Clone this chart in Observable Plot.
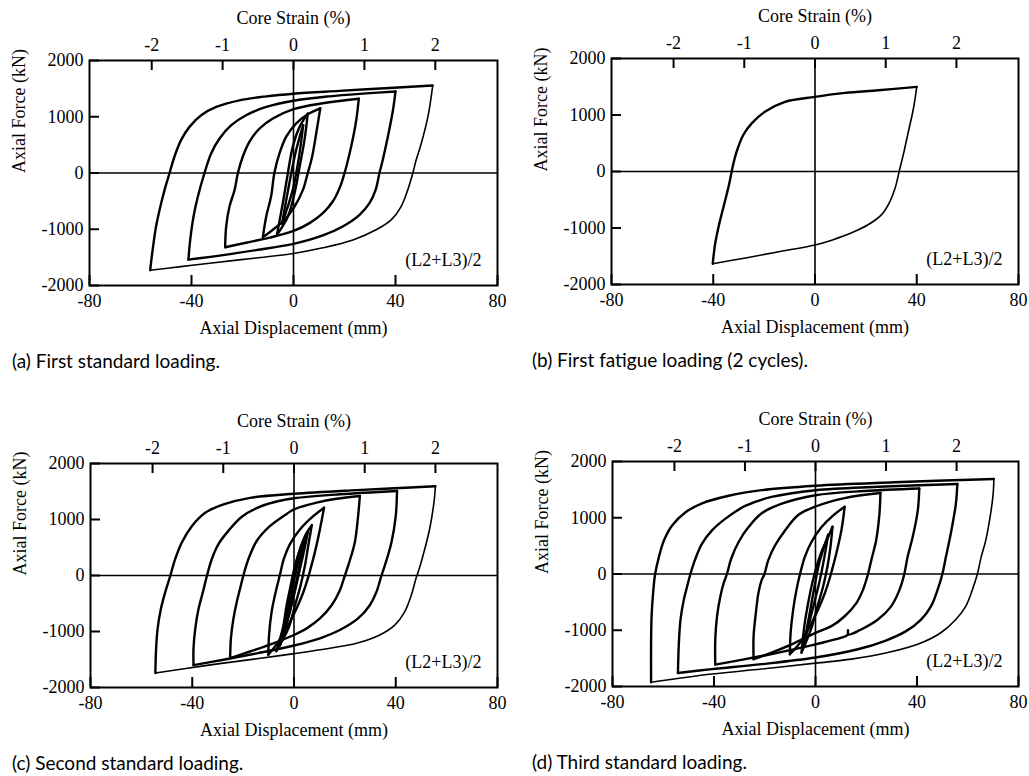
<!DOCTYPE html>
<html><head><meta charset="utf-8">
<script src="https://cdn.jsdelivr.net/npm/d3@7"></script>
<script src="https://cdn.jsdelivr.net/npm/@observablehq/plot@0.6"></script>
<style>
body{margin:0;background:#fff;}
#root{position:relative;width:1029px;height:776px;overflow:hidden;background:#fff;}
.panel{position:absolute;font-family:"Liberation Serif",serif;}
.panel svg, .panel svg text{font-family:"Liberation Serif",serif !important;}
.cap{position:absolute;font-family:Lato,sans-serif;font-size:19px;line-height:19px;color:#000;white-space:nowrap;}
</style></head><body><div id="root"></div>
<script>
// ---- axis ticks & labels ----
const xTicks = [-80, -40, 0, 40, 80];
const yTicks = [-2000, -1000, 0, 1000, 2000];
const strainTicks = [-2, -1, 0, 1, 2];
const mmPerPercent = 27.8; // displacement (mm) for 1 % core strain
const titleTop = "Core Strain (%)";
const titleBottom = "Axial Displacement (mm)";
const titleLeft = "Axial Force (kN)";
const sensorLabel = "(L2+L3)/2";
const captions = ["(a) First standard loading.", "(b) First fatigue loading (2 cycles).", "(c) Second standard loading.", "(d) Third standard loading."];

// ---- hysteresis loops [displacement mm, force kN] ----
// (a) first standard loading
const a1 = [[-56.2,-1729],[-55.4,-1422],[-53.9,-950],[-51.9,-537],[-50.2,-242],[-48.6,0],[-46.7,289],[-44.1,584],[-40.8,820],[-36.2,1027],[-30.3,1174],[-21.2,1292],[-10.7,1363],[0,1410],[18,1460],[37.6,1512],[54.6,1555],[52.7,997],[50.1,525],[48.1,230],[46.8,0],[44.8,-301],[42.2,-596],[38.3,-832],[32.4,-1009],[23.3,-1190],[11.5,-1330],[0,-1430],[-14.6,-1510],[-30.3,-1590],[-43.4,-1660],[-56.2,-1729]];
const a2 = [[-41.2,-1540],[-40.5,-1186],[-39.2,-773],[-37.5,-419],[-34.9,0],[-32.3,348],[-29,614],[-24.4,850],[-18.6,1027],[-10.7,1174],[0,1285],[14.1,1363],[28.5,1415],[40,1450],[39,1115],[37,643],[35,230],[33.7,0],[32.2,-301],[29.8,-537],[25.9,-743],[19.3,-950],[11.5,-1110],[0,-1260],[-14.6,-1370],[-27.7,-1460],[-41.2,-1540]];
const a3 = [[-26.8,-1320],[-26.4,-950],[-25.1,-596],[-23.1,-301],[-21.8,0],[-19.9,289],[-17.3,555],[-13.3,791],[-8.1,968],[0,1135],[11.5,1240],[25.6,1320],[24.6,938],[22.6,466],[20.7,112],[20,0],[18.3,-242],[15.4,-507],[11.5,-714],[6.3,-891],[0,-1030],[-9.4,-1150],[-18.6,-1240],[-26.8,-1320]];
const a4 = [[-12,-1140],[-10.7,-773],[-8.8,-419],[-7.5,0],[-5.5,348],[-2.9,643],[1,879],[5.6,1044],[10.5,1150],[8.9,702],[7.3,289],[5.6,0],[3.7,-301],[0.4,-596],[-3.5,-832],[-8.1,-1009],[-12,-1140]];
const a5 = [[-6.5,-1100],[-4.2,-537],[-2.2,0],[-0.3,466],[2.4,820],[5.6,1056],[4.3,584],[2.4,112],[0.4,-360],[-2.2,-773],[-6.5,-1100]];
const a6 = [[-4.5,-900],[-1.5,-150],[1,400],[3.8,850],[2.2,300],[-0.3,-300],[-4.5,-900]];
// (b) first fatigue loading
const b1 = [[-40.2,-1632],[-39.3,-1291],[-37.7,-939],[-35.4,-528],[-33.8,-235],[-33,-59],[-32.5,59],[-30.8,352],[-28.2,646],[-24.9,851],[-19.7,1057],[-11.8,1233],[0,1321],[11.8,1391],[24.9,1438],[40,1497],[38.7,1115],[36.7,704],[34.7,294],[33.4,59],[32.8,-59],[31.5,-294],[29.5,-528],[26.2,-763],[21,-939],[14.4,-1086],[6.6,-1215],[0,-1300],[-14.2,-1420],[-27.3,-1530],[-40.2,-1632]];
// (c) second standard loading
const c1 = [[-54.5,-1741],[-54.2,-1298],[-53.6,-944],[-52.3,-590],[-50.6,-295],[-48.6,0],[-46.7,295],[-44.1,590],[-40.1,885],[-34.9,1121],[-27.7,1269],[-17.3,1387],[0,1460],[24.6,1525],[55.6,1593],[55,1298],[53.3,826],[50.7,354],[48.8,59],[48.1,-30],[46.1,-354],[43.5,-649],[39.6,-885],[33.7,-1062],[24.6,-1210],[14.1,-1298],[0,-1395],[-14.6,-1487],[-34.2,-1605],[-54.5,-1741]];
const c2 = [[-39.5,-1600],[-39.5,-1298],[-38.8,-944],[-37.5,-590],[-35.8,-295],[-34.2,0],[-32.3,295],[-29.7,561],[-25.8,797],[-20.5,1050],[-13.3,1230],[-6,1330],[0,1380],[18,1450],[40.5,1510],[40,1062],[38.3,590],[35.7,177],[34.4,0],[32.4,-295],[29.8,-531],[25.2,-767],[18,-974],[10.2,-1121],[0,-1250],[-14.6,-1390],[-27.7,-1505],[-39.5,-1600]];
const c3 = [[-25.1,-1475],[-24.8,-1121],[-23.8,-767],[-22.5,-472],[-21.2,-236],[-19.9,0],[-17.9,295],[-14.6,620],[-9.4,885],[-2.9,1100],[0,1180],[8.9,1300],[16.7,1370],[25.9,1420],[25.2,1062],[23.9,590],[21.3,177],[20,0],[18,-266],[14.8,-531],[10.2,-767],[5,-944],[0,-1062],[-8.1,-1210],[-17.3,-1357],[-25.1,-1475]];
const c4 = [[-10.1,-1416],[-9.8,-1062],[-8.8,-649],[-7.2,-295],[-5.6,0],[-4,295],[-1.6,561],[2.4,826],[6.9,1033],[11.8,1210],[10.2,826],[8.2,413],[6.5,118],[5.6,-30],[3.7,-295],[1,-590],[-2.2,-885],[-6.1,-1180],[-10.1,-1416]];
const c5 = [[-7,-1350],[-4.4,-944],[-2.9,-531],[-1.3,-177],[0.4,177],[2.4,472],[4.7,738],[7,900],[5.6,531],[4.3,177],[2.6,-177],[0.4,-531],[-2.2,-944],[-7,-1350]];
const c6 = [[-5.5,-1250],[-3,-700],[-1,-200],[1,250],[3,550],[5.5,780],[4,450],[2,50],[0,-350],[-2.5,-800],[-5.5,-1250]];
const c7 = [[-4.5,-1150],[-2,-600],[0,-100],[2,300],[4,600],[2.5,250],[0.5,-200],[-1.5,-600],[-4.5,-1150]];
// (d) third standard loading
const d1 = [[-64.8,-1925],[-64.8,-1280],[-64.6,-751],[-64,-340],[-63.2,0],[-61.7,305],[-59.7,599],[-56.5,863],[-51.2,1098],[-44.7,1256],[-34.2,1391],[-21.2,1491],[0,1570],[31.1,1630],[70.3,1690],[70,1420],[69,1068],[67.1,599],[65.3,305],[63.8,0],[61.8,-282],[59.2,-575],[55.3,-810],[49.4,-1045],[40.3,-1250],[28.5,-1397],[14.1,-1514],[0,-1585],[-21.2,-1690],[-40.8,-1779],[-64.8,-1925]];
const d2 = [[-54.2,-1760],[-53.9,-1280],[-53.2,-810],[-51.9,-458],[-50.6,-223],[-49.3,0],[-47.3,276],[-44.7,540],[-40.8,775],[-35.6,980],[-27.7,1210],[-17.3,1370],[0,1490],[24.6,1550],[55.9,1600],[55.3,1244],[53.3,716],[51.4,305],[50,0],[48.1,-282],[45.5,-575],[41.6,-810],[35.7,-1016],[27.2,-1192],[16.7,-1338],[0,-1485],[-21.2,-1603],[-40.8,-1691],[-54.2,-1760]];
const d3 = [[-39.5,-1610],[-39.5,-1162],[-38.8,-751],[-37.5,-399],[-36.2,-164],[-34.9,0],[-33.2,276],[-30.3,569],[-26.4,834],[-21.2,1080],[-13.3,1250],[0,1400],[19.3,1475],[40.9,1520],[40.3,1127],[38.3,657],[36.3,305],[35,0],[33.1,-282],[29.8,-575],[24.6,-810],[18,-986],[13,-1075],[12.8,-1000],[12.6,-1085],[10.2,-1133],[0,-1250],[-14.6,-1397],[-27.7,-1514],[-39.5,-1610]];
const d4 = [[-24.4,-1514],[-24.4,-1104],[-23.5,-693],[-22.5,-340],[-21.2,-106],[-20.1,0],[-18.6,247],[-15.9,511],[-12,775],[-6.8,1050],[0,1200],[11.5,1350],[25.6,1440],[25.2,1068],[23.9,599],[22,247],[20.7,0],[18.7,-282],[16.1,-517],[11.5,-751],[6.3,-927],[0,-1045],[-9.4,-1250],[-17.3,-1397],[-24.4,-1514]];
const d5 = [[-10.1,-1426],[-9.8,-1045],[-8.8,-634],[-7.5,-282],[-6.1,0],[-4.2,305],[-1.6,569],[2.4,834],[6.9,1039],[11.5,1194],[10.2,775],[8.2,364],[6.5,70],[5.6,-76],[3.7,-340],[1,-634],[-2.2,-927],[-6.1,-1221],[-10.1,-1426]];
const d6 = [[-5.5,-1397],[-4.4,-927],[-2.9,-517],[-1.3,-164],[0.4,129],[2.6,423],[5,657],[6.7,840],[5.9,481],[4.7,129],[3,-223],[0.8,-575],[-1.8,-986],[-5.5,-1397]];
const d7 = [[-4.8,-1300],[-2.5,-750],[-0.5,-250],[1.5,200],[3.5,500],[5,700],[3.5,300],[1.5,-150],[-1,-600],[-4.8,-1300]];

const panelLoops = [[a1,a2,a3,a4,a5,a6],[b1],[c1,c2,c3,c4,c5,c6,c7],[d1,d2,d3,d4,d5,d6,d7]];

// ---- layout (pixels) ----
const layout = [
  {left:0,   top:0,   w:515, mL:89, mT:60, fw:408, fh:225, capX:12, capY:351},
  {left:515, top:0,   w:514, mL:96, mT:58, fw:407, fh:226, capX:17, capY:350},
  {left:0,   top:388, w:515, mL:90, mT:75, fw:407, fh:224, capX:12, capY:365},
  {left:515, top:388, w:514, mL:97, mT:73, fw:406, fh:225, capX:17, capY:364}
];
const SERIF = "Liberation Serif";

function toRows(loops) {
  const rows = [];
  loops.forEach((loop, k) => {
    let iMax = 0;
    loop.forEach((p, i) => { if (p[0] > loop[iMax][0]) iMax = i; });
    const parts = [loop.slice(0, iMax + 1), loop.slice(iMax)];
    parts.forEach((part, b) => part.forEach(([x, y]) => rows.push({s: k * 2 + b, thin: k === 0 && b === 1, x, y})));
  });
  return rows;
}

const root = document.getElementById("root");
panelLoops.forEach((loops, p) => {
  const L = layout[p];
  const H = 388;
  const rows = toRows(loops);
  const chart = Plot.plot({
    width: L.w, height: H,
    marginLeft: L.mL, marginTop: L.mT,
    marginRight: L.w - L.mL - L.fw, marginBottom: H - L.mT - L.fh,
    x: {domain: [-80, 80], axis: null},
    y: {domain: [-2000, 2000], axis: null},
    style: {fontFamily: SERIF, fontSize: "18px", background: "transparent", overflow: "visible", color: "#000"},
    marks: [
      Plot.ruleY([0], {stroke: "#000", strokeWidth: 1.6}),
      Plot.ruleX([0], {stroke: "#000", strokeWidth: 1.6}),
      Plot.line(rows.filter(d => !d.thin), {x: "x", y: "y", z: "s", curve: "catmull-rom", stroke: "#000", strokeWidth: 2.4, strokeLinejoin: "round"}),
      Plot.line(rows.filter(d => d.thin), {x: "x", y: "y", z: "s", curve: "catmull-rom", stroke: "#000", strokeWidth: 1.6, strokeLinejoin: "round"}),
      Plot.frame({stroke: "#000", strokeWidth: 2}),
      Plot.tickX(xTicks, {x: d => d, insetTop: L.fh - 10, stroke: "#000", strokeWidth: 2}),
      Plot.tickX(strainTicks, {x: d => d * mmPerPercent, insetBottom: L.fh - 10, stroke: "#000", strokeWidth: 2}),
      Plot.tickY(yTicks, {y: d => d, insetRight: L.fw - 10, stroke: "#000", strokeWidth: 2}),
      Plot.axisX({anchor: "bottom", ticks: xTicks, tickSize: 0, tickPadding: 9, tickFormat: d => String(d), label: null, fontFamily: SERIF, fontSize: 18, fill: "#000"}),
      Plot.axisX({anchor: "top", ticks: strainTicks.map(s => s * mmPerPercent), tickSize: 0, tickPadding: 10, tickFormat: d => String(Math.round(d / mmPerPercent)), label: null, fontFamily: SERIF, fontSize: 18, fill: "#000"}),
      Plot.axisY({anchor: "left", ticks: yTicks, tickSize: 0, tickPadding: 6, tickFormat: d => String(d), label: null, fontFamily: SERIF, fontSize: 18, fill: "#000"}),
      Plot.text([titleTop], {text: d => d, frameAnchor: "top", dy: -36.5, lineAnchor: "bottom", fill: "#000", fontFamily: SERIF, fontSize: 18}),
      Plot.text([titleBottom], {text: d => d, frameAnchor: "bottom", dy: 48, lineAnchor: "bottom", fill: "#000", fontFamily: SERIF, fontSize: 18}),
      Plot.text([titleLeft], {text: d => d, frameAnchor: "left", dx: -70, rotate: -90, lineAnchor: "middle", fill: "#000", fontFamily: SERIF, fontSize: 18}),
      Plot.text([sensorLabel], {text: d => d, frameAnchor: "bottom-right", dx: -16, dy: -20, textAnchor: "end", lineAnchor: "bottom", fill: "#000", fontFamily: SERIF, fontSize: 18})
    ]
  });
  const wrap = document.createElement("div");
  wrap.className = "panel";
  wrap.style.left = L.left + "px";
  wrap.style.top = L.top + "px";
  wrap.appendChild(chart);
  root.appendChild(wrap);
  const cap = document.createElement("div");
  cap.className = "cap";
  cap.style.left = (L.left + L.capX) + "px";
  cap.style.top = (L.top + L.capY) + "px";
  cap.textContent = captions[p];
  root.appendChild(cap);
});
</script>
</body></html>
